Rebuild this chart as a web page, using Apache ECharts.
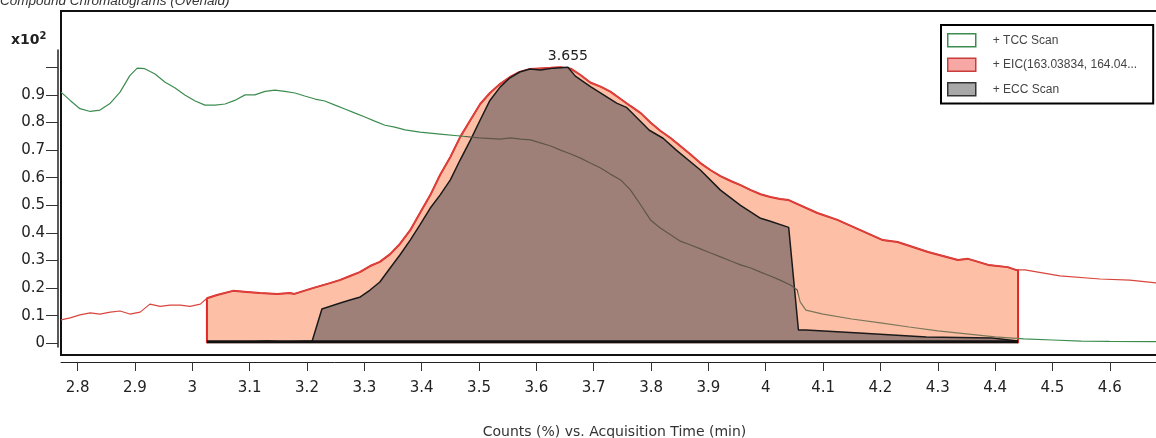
<!DOCTYPE html>
<html>
<head>
<meta charset="utf-8">
<script src="https://cdn.jsdelivr.net/npm/echarts@6/dist/echarts.min.js"></script>
<style>
html,body{margin:0;padding:0;background:#fff;}
#chart{width:1156px;height:438px;}
</style>
</head>
<body>
<div id="chart"></div>
<script>
// ---------- data (time in min, counts in x10^2 %) ----------
const tccT = [2.771,2.787,2.804,2.822,2.839,2.857,2.874,2.891,2.904,2.917,2.935,2.952,2.970,2.987,3.005,3.022,3.040,3.057,3.074,3.092,3.109,3.127,3.144,3.161,3.179,3.196,3.214,3.231,3.249,3.266,3.284,3.301,3.318,3.336,3.353,3.371,3.397,3.432,3.467,3.500,3.537,3.555,3.573,3.590,3.607,3.625,3.642,3.660,3.677,3.694,3.712,3.729,3.747,3.764,3.782,3.799,3.816,3.834,3.851,3.869,3.886,3.904,3.921,3.939,3.956,3.974,3.991,4.008,4.025,4.043,4.055,4.060,4.070,4.100,4.150,4.200,4.250,4.300,4.350,4.400,4.450,4.500,4.550,4.600,4.700];
const tccV = [0.91,0.88,0.85,0.84,0.845,0.87,0.91,0.97,0.997,0.995,0.976,0.947,0.925,0.90,0.878,0.863,0.863,0.867,0.88,0.90,0.90,0.913,0.917,0.913,0.907,0.896,0.885,0.878,0.863,0.849,0.834,0.82,0.805,0.79,0.783,0.773,0.765,0.758,0.751,0.744,0.74,0.744,0.74,0.737,0.726,0.715,0.70,0.686,0.671,0.653,0.635,0.613,0.592,0.556,0.501,0.447,0.418,0.393,0.37,0.356,0.342,0.327,0.313,0.298,0.284,0.273,0.258,0.244,0.229,0.211,0.193,0.150,0.120,0.106,0.088,0.074,0.059,0.045,0.034,0.023,0.016,0.012,0.008,0.007,0.006];

const eicT = [2.771,2.787,2.804,2.822,2.839,2.857,2.874,2.891,2.909,2.926,2.944,2.961,2.979,2.996,3.014,3.026,3.043,3.071,3.095,3.118,3.148,3.170,3.178,3.210,3.240,3.257,3.275,3.292,3.310,3.327,3.345,3.362,3.380,3.397,3.415,3.432,3.450,3.467,3.485,3.502,3.519,3.537,3.554,3.571,3.589,3.607,3.625,3.642,3.660,3.677,3.694,3.712,3.729,3.747,3.764,3.782,3.799,3.816,3.834,3.851,3.869,3.886,3.904,3.921,3.939,3.956,3.974,3.991,4.008,4.025,4.040,4.090,4.125,4.204,4.230,4.283,4.335,4.353,4.388,4.422,4.436,4.452,4.513,4.583,4.635,4.700];
const eicV = [0.085,0.092,0.103,0.110,0.106,0.113,0.117,0.106,0.113,0.142,0.134,0.138,0.138,0.134,0.142,0.164,0.175,0.190,0.186,0.182,0.179,0.182,0.179,0.200,0.218,0.229,0.244,0.258,0.280,0.295,0.323,0.360,0.410,0.472,0.537,0.610,0.675,0.747,0.809,0.867,0.907,0.940,0.965,0.983,0.994,0.996,0.998,1.000,0.995,0.972,0.945,0.930,0.912,0.885,0.860,0.834,0.800,0.770,0.744,0.715,0.684,0.653,0.627,0.606,0.588,0.573,0.555,0.540,0.530,0.523,0.519,0.472,0.447,0.374,0.367,0.331,0.302,0.306,0.284,0.276,0.266,0.266,0.244,0.233,0.229,0.215];

const eccT = [3.0255,3.100,3.130,3.160,3.209,3.226,3.258,3.275,3.293,3.310,3.327,3.345,3.362,3.380,3.397,3.415,3.432,3.450,3.467,3.485,3.502,3.519,3.537,3.554,3.571,3.589,3.607,3.630,3.655,3.668,3.695,3.740,3.757,3.797,3.821,3.844,3.886,3.921,3.956,3.991,4.008,4.040,4.057,4.070,4.163,4.280,4.395,4.440];
const eccV = [0.004,0.005,0.008,0.005,0.008,0.124,0.146,0.157,0.168,0.193,0.222,0.273,0.320,0.374,0.429,0.490,0.537,0.592,0.664,0.736,0.809,0.880,0.929,0.962,0.983,0.994,0.990,0.997,1.000,0.968,0.929,0.870,0.855,0.772,0.743,0.700,0.628,0.555,0.500,0.453,0.442,0.420,0.048,0.048,0.037,0.023,0.019,0.008];

const intStart = 3.0255;      // integration window of EIC
const intEnd = 4.44;
const baselineLevel = 0.006;
const peakTime = 3.655;
const peakLabel = '3.655';

const xTicks = [2.8,2.9,3,3.1,3.2,3.3,3.4,3.5,3.6,3.7,3.8,3.9,4,4.1,4.2,4.3,4.4,4.5,4.6];
const yTicks = [0,0.1,0.2,0.3,0.4,0.5,0.6,0.7,0.8,0.9,1.0];
const yTickLabels = ['0','0.1','0.2','0.3','0.4','0.5','0.6','0.7','0.8','0.9',''];

const seriesNames = ['TCC Scan','EIC(163.03834, 164.04...','ECC Scan'];

// ---------- helpers ----------
const zip = (a, b) => a.map((t, i) => [t, b[i]]);
function interp(ts, vs, t) {
  for (let i = 0; i < ts.length - 1; i++) {
    if (t >= ts[i] && t <= ts[i + 1]) {
      const f = (t - ts[i]) / (ts[i + 1] - ts[i]);
      return vs[i] + f * (vs[i + 1] - vs[i]);
    }
  }
  return vs[vs.length - 1];
}
const eicArea = [[intStart, 0], [intStart, interp(eicT, eicV, intStart)]]
  .concat(zip(eicT, eicV).filter(p => p[0] > intStart && p[0] < intEnd))
  .concat([[intEnd, interp(eicT, eicV, intEnd)], [intEnd, 0]]);
const peakValue = interp(eccT, eccV, peakTime);

const FONT = 'DejaVu Sans';
const chart = echarts.init(document.getElementById('chart'), null, {renderer: 'canvas'});
chart.setOption({
  animation: false,
  backgroundColor: '#fff',
  graphic: [
    {type: 'text', left: 0, top: -6, style: {text: 'Compound Chromatograms (Overlaid)', fontFamily: 'Liberation Sans', fontSize: 13.5, fontStyle: 'italic', fill: '#333'}},
    {type: 'text', left: 11, top: 31, style: {text: 'x10{s|2}', fontFamily: FONT, fontSize: 14, fontWeight: 'bold', fill: '#222',
      rich: {s: {fontSize: 10, fontFamily: FONT, fontWeight: 'bold', fill: '#222', verticalAlign: 'top', padding: [0, 0, 8, 0]}}}}
  ],
  grid: [
    {left: 61, width: 1107, top: 11, bottom: 83, outerBoundsMode: 'none', containLabel: false,
      show: true, borderColor: '#111', borderWidth: 2, backgroundColor: 'transparent'},
    {left: 58, width: 10, top: 50, bottom: 91, outerBoundsMode: 'none', containLabel: false, show: false}
  ],
  xAxis: [
    {type: 'value', gridIndex: 0, min: 2.771, max: 4.7015, offset: 7,
      name: 'Counts (%) vs. Acquisition Time (min)', nameLocation: 'middle', nameGap: 63,
      nameTextStyle: {fontFamily: FONT, fontSize: 14, color: '#333'},
      axisLine: {show: true, onZero: false, lineStyle: {color: '#222', width: 1}},
      axisTick: {show: true, length: 9, customValues: xTicks, lineStyle: {color: '#333'}},
      axisLabel: {show: true, customValues: xTicks, margin: 19, fontFamily: FONT, fontSize: 15, color: '#222'},
      splitLine: {show: false}},
    {type: 'value', gridIndex: 1, min: 0, max: 1, show: false}
  ],
  yAxis: [
    {type: 'value', gridIndex: 0, min: -0.0424, max: 1.204, show: false, splitLine: {show: false}},
    {type: 'value', gridIndex: 1, min: -0.0134, max: 1.0627, position: 'left',
      axisLine: {show: true, onZero: false, lineStyle: {color: '#222', width: 1.5}},
      axisTick: {show: true, length: 12, customValues: yTicks, lineStyle: {color: '#333'}},
      axisLabel: {show: true, customValues: yTicks, margin: 13, fontFamily: FONT, fontSize: 15, color: '#222',
        formatter: v => { const i = yTicks.findIndex(t => Math.abs(t - v) < 1e-6); return i >= 0 ? yTickLabels[i] : ''; }},
      splitLine: {show: false}}
  ],
  legend: {
    orient: 'vertical', left: 941, top: 25,
    itemWidth: 28, itemHeight: 13, itemGap: 10,
    padding: [8, 16, 7, 6],
    borderColor: '#000', borderWidth: 2, backgroundColor: '#fff',
    selectedMode: false,
    formatter: '+ {name}',
    textStyle: {fontFamily: 'Liberation Sans', fontSize: 12, color: '#444', padding: [0, 0, 0, 12]},
    data: [
      {name: seriesNames[0], icon: 'rect', itemStyle: {color: '#fff', borderColor: '#3c8c50', borderWidth: 1.5}},
      {name: seriesNames[1], icon: 'rect', itemStyle: {color: '#f8a8a4', borderColor: '#c83c3c', borderWidth: 1.5}},
      {name: seriesNames[2], icon: 'rect', itemStyle: {color: '#a8a8a8', borderColor: '#333', borderWidth: 1.5}}
    ]
  },
  visualMap: {
    show: false, type: 'piecewise', seriesIndex: 4, dimension: 0,
    pieces: [
      {lt: 3.475, color: '#3c8c50'},
      {gte: 3.475, lt: 4.057, color: '#5e5548'},
      {gte: 4.057, lt: 4.44, color: '#7b7658'},
      {gte: 4.44, color: '#3c8c50'}
    ]
  },
  series: [
    {name: seriesNames[1], type: 'line', xAxisIndex: 0, yAxisIndex: 0, data: eicArea, symbol: 'none', z: 2,
      lineStyle: {color: '#e02828', width: 2}, itemStyle: {color: '#f8a8a4'},
      areaStyle: {color: '#fdbfa6', opacity: 1, origin: 0}},
    {name: seriesNames[1], type: 'line', xAxisIndex: 0, yAxisIndex: 0, data: zip(eicT, eicV), symbol: 'none', z: 3,
      lineStyle: {color: '#d8463e', width: 1.2}, itemStyle: {color: '#f8a8a4'}},
    {name: seriesNames[2], type: 'line', xAxisIndex: 0, yAxisIndex: 0, data: zip(eccT, eccV), symbol: 'none', z: 4,
      lineStyle: {color: '#1a1a1a', width: 1.5}, itemStyle: {color: '#a8a8a8'},
      areaStyle: {color: '#9e8078', opacity: 1, origin: 0},
      markPoint: {symbol: 'circle', symbolSize: 0, silent: true,
        data: [{coord: [peakTime, peakValue]}],
        label: {show: true, position: 'top', distance: 4, formatter: peakLabel, fontFamily: FONT, fontSize: 14, color: '#222'}}},
    {name: 'baseline', type: 'line', xAxisIndex: 0, yAxisIndex: 0, data: [[intStart, baselineLevel], [intEnd, baselineLevel]],
      symbol: 'none', z: 5, lineStyle: {color: '#111', width: 3}},
    {name: seriesNames[0], type: 'line', xAxisIndex: 0, yAxisIndex: 0, data: zip(tccT, tccV), symbol: 'none', z: 6,
      lineStyle: {width: 1.2}, itemStyle: {color: '#3c8c50'}}
  ]
});
</script>
</body>
</html>
